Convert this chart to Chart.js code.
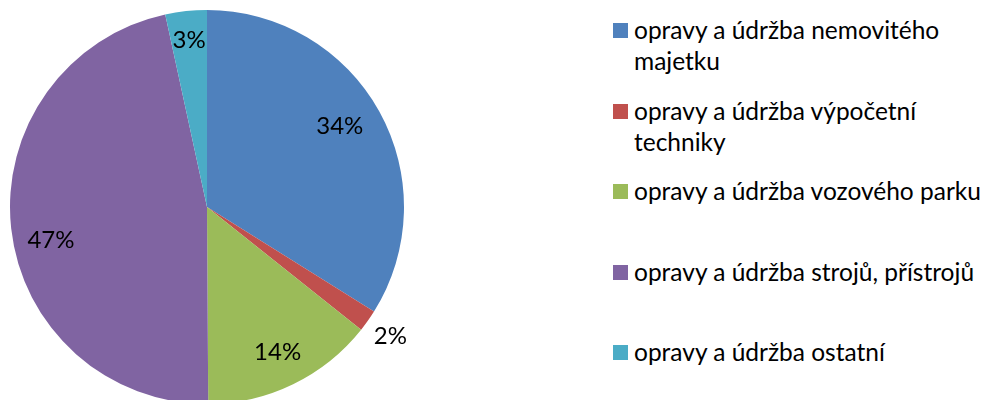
<!DOCTYPE html>
<html lang="cs">
<head>
  <meta charset="UTF-8" />
  <title>Opravy a údržba</title>
  <script src="https://cdn.jsdelivr.net/npm/chart.js"></script>
  <style>
    html, body {
      margin: 0;
      padding: 0;
      background: #fff;
      overflow: hidden;
    }
    body {
      width: 989px;
      height: 400px;
      position: relative;
      font-family: Lato, "Open Sans", sans-serif;
    }
    #pieBox {
      position: absolute;
      left: 0;
      top: 0;
      width: 414px;
      height: 414px;
    }
    #legend {
      position: absolute;
      left: 613px;
      top: 14px;
      margin: 0;
      padding: 0;
      list-style: none;
      font-size: 24.5px;
      line-height: 31px;
      color: #000;
      white-space: nowrap;
    }
    #legend li {
      position: relative;
      height: 80.5px;
      padding-left: 21px;
    }
    #legend li span {
      position: absolute;
      left: 0;
      top: 9px;
      width: 15px;
      height: 15px;
    }
  </style>
</head>
<body>
  <div id="pieBox"><canvas id="pie"></canvas></div>
  <ul id="legend"></ul>

  <script>
    // legend text, line breaks as in the picture
    const labels = [
      ['opravy a údržba nemovitého', 'majetku'],
      ['opravy a údržba výpočetní', 'techniky'],
      ['opravy a údržba vozového parku'],
      ['opravy a údržba strojů, přístrojů'],
      ['opravy a údržba ostatní']
    ];
    // share in percent
    const values = [33.9, 1.8, 14.2, 46.7, 3.4];
    const colors = ['#4F81BD', '#C0504D', '#9BBB59', '#8064A2', '#4BACC6'];

    // where each percent label sits: fraction of radius, fraction along the slice
    const labelRadius = [0.79, 1.14, 0.82, 0.81, 0.85];
    const labelAlong = [0.48, 0.5, 0.5, 0.466, 0.5];

    const total = values.reduce((a, b) => a + b, 0);

    const pctLabels = {
      id: 'pctLabels',
      afterDatasetsDraw(chart) {
        const ctx = chart.ctx;
        const arcs = chart.getDatasetMeta(0).data;
        ctx.save();
        ctx.font = '24px Lato, "Open Sans", sans-serif';
        ctx.fillStyle = '#000';
        ctx.textAlign = 'center';
        ctx.textBaseline = 'middle';
        arcs.forEach((arc, i) => {
          const p = arc.getProps(['x', 'y', 'startAngle', 'endAngle', 'outerRadius'], true);
          const a = p.startAngle + (p.endAngle - p.startAngle) * labelAlong[i];
          const r = p.outerRadius * labelRadius[i];
          const txt = Math.round(values[i] / total * 100) + '%';
          ctx.fillText(txt, p.x + Math.cos(a) * r, p.y + Math.sin(a) * r);
        });
        ctx.restore();
      }
    };

    new Chart(document.getElementById('pie'), {
      type: 'pie',
      data: {
        labels: labels.map(l => l.join(' ')),
        datasets: [{
          data: values,
          backgroundColor: colors,
          borderWidth: 0
        }]
      },
      options: {
        responsive: true,
        maintainAspectRatio: false,
        animation: false,
        layout: { padding: 10 },
        plugins: {
          legend: { display: false },
          tooltip: { enabled: false }
        }
      },
      plugins: [pctLabels]
    });

    const legend = document.getElementById('legend');
    labels.forEach((lines, i) => {
      const li = document.createElement('li');
      const box = document.createElement('span');
      box.style.background = colors[i];
      li.appendChild(box);
      li.appendChild(document.createTextNode(lines[0]));
      for (let k = 1; k < lines.length; k++) {
        li.appendChild(document.createElement('br'));
        li.appendChild(document.createTextNode(lines[k]));
      }
      legend.appendChild(li);
    });
  </script>
</body>
</html>
